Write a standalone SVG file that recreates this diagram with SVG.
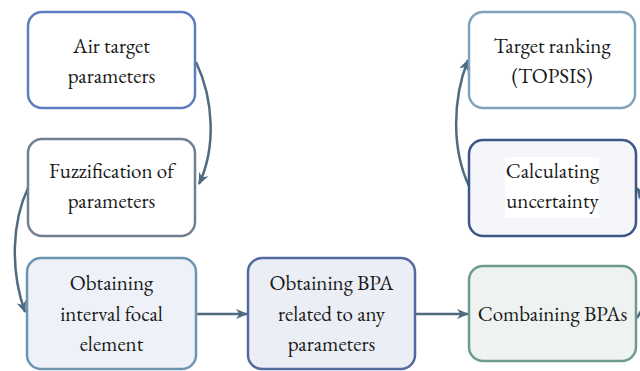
<svg xmlns="http://www.w3.org/2000/svg" width="640" height="371" viewBox="0 0 640 371">
  <defs>
    <style>
      .box { stroke-width: 2.5; }
      .lbl { font-size: 21px; fill: #1a1a1a; text-anchor: middle; }
      .conn { fill: none; stroke: #4e6b7f; stroke-width: 2.5; }
    </style>
    <marker id="arrow" viewBox="0 0 12 10" refX="11" refY="5" markerWidth="12" markerHeight="10" markerUnits="userSpaceOnUse" orient="auto">
      <path d="M0,0 L12,5 L0,10 L3.5,5 Z" fill="#4e6b7f"/>
    </marker>
  </defs>

  <rect width="640" height="371" fill="#ffffff"/>

  <g id="connectors">
    <!-- Air target parameters -> Fuzzification of parameters -->
    <path class="conn" d="M196,62 C214,100 216,148 199,184" marker-end="url(#arrow)"/>
    <!-- Fuzzification of parameters -> Obtaining interval focal element -->
    <path class="conn" d="M28,188 C12,222 10,270 25,312" marker-end="url(#arrow)"/>
    <!-- Obtaining interval focal element -> Obtaining BPA -->
    <path class="conn" d="M196,314 L247,314" marker-end="url(#arrow)"/>
    <!-- Obtaining BPA -> Combaining BPAs -->
    <path class="conn" d="M416,314 L468,314" marker-end="url(#arrow)"/>
    <!-- Combaining BPAs -> Calculating uncertainty (runs past the right edge) -->
    <path class="conn" d="M637,318 C660,282 660,222 637,188" marker-end="url(#arrow)"/>
    <!-- Calculating uncertainty -> Target ranking -->
    <path class="conn" d="M469,186 C452,150 452,100 468,60" marker-end="url(#arrow)"/>
  </g>

  <g font-family="'EB Garamond', 'Liberation Serif', serif">
    <g id="air-target">
      <rect class="box" x="28" y="12" width="167" height="96" rx="14" fill="#ffffff" stroke="#5b7dbe"/>
      <text class="lbl" x="111.5" y="53">Air target</text>
      <text class="lbl" x="111.5" y="83">parameters</text>
    </g>

    <g id="fuzzification">
      <rect class="box" x="28" y="139" width="167" height="97" rx="14" fill="#ffffff" stroke="#728090"/>
      <text class="lbl" x="111.5" y="178">Fuzzification of</text>
      <text class="lbl" x="111.5" y="208">parameters</text>
    </g>

    <g id="interval-focal">
      <rect class="box" x="27" y="258" width="169" height="111" rx="14" fill="#eef2f8" stroke="#6c96b0"/>
      <text class="lbl" x="111.5" y="290">Obtaining</text>
      <text class="lbl" x="111.5" y="321">interval focal</text>
      <text class="lbl" x="111.5" y="351">element</text>
    </g>

    <g id="obtaining-bpa">
      <rect class="box" x="248" y="258" width="167" height="111" rx="14" fill="#eceef5" stroke="#53699f"/>
      <text class="lbl" x="331.5" y="290">Obtaining BPA</text>
      <text class="lbl" x="331.5" y="321">related to any</text>
      <text class="lbl" x="331.5" y="351">parameters</text>
    </g>

    <g id="combaining-bpas">
      <rect class="box" x="469" y="266" width="167" height="95" rx="14" fill="#eef2f0" stroke="#6f9a8f"/>
      <text class="lbl" x="552.5" y="321">Combaining BPAs</text>
    </g>

    <g id="calculating-uncertainty">
      <rect class="box" x="469" y="140" width="167" height="96" rx="14" fill="#f4f6fa" stroke="#3e5587"/>
      <rect x="505" y="157" width="94" height="61" fill="#ffffff"/>
      <text class="lbl" x="552.5" y="178">Calculating</text>
      <text class="lbl" x="552.5" y="208">uncertainty</text>
    </g>

    <g id="target-ranking">
      <rect class="box" x="469" y="12" width="166" height="96" rx="14" fill="#ffffff" stroke="#7ea3bb"/>
      <text class="lbl" x="552" y="53">Target ranking</text>
      <text class="lbl" x="552" y="83">(TOPSIS)</text>
    </g>
  </g>
</svg>
